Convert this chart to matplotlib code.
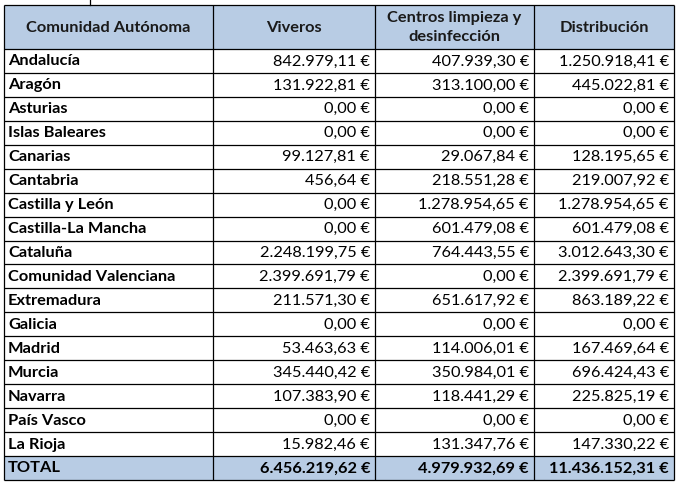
import matplotlib.pyplot as plt
from matplotlib.patches import Rectangle

# Table contents
headers = ['Comunidad Autónoma', 'Viveros', 'Centros limpieza y\ndesinfección', 'Distribución']
regions = ['Andalucía', 'Aragón', 'Asturias', 'Islas Baleares', 'Canarias', 'Cantabria',
           'Castilla y León', 'Castilla-La Mancha', 'Cataluña', 'Comunidad Valenciana',
           'Extremadura', 'Galicia', 'Madrid', 'Murcia', 'Navarra', 'País Vasco', 'La Rioja']
viveros = [842979.11, 131922.81, 0.0, 0.0, 99127.81, 456.64, 0.0, 0.0, 2248199.75,
           2399691.79, 211571.30, 0.0, 53463.63, 345440.42, 107383.90, 0.0, 15982.46]
centros = [407939.30, 313100.00, 0.0, 0.0, 29067.84, 218551.28, 1278954.65, 601479.08,
           764443.55, 0.0, 651617.92, 0.0, 114006.01, 350984.01, 118441.29, 0.0, 131347.76]
distribucion = [1250918.41, 445022.81, 0.0, 0.0, 128195.65, 219007.92, 1278954.65, 601479.08,
                3012643.30, 2399691.79, 863189.22, 0.0, 167469.64, 696424.43, 225825.19, 0.0, 147330.22]
totals = [6456219.62, 4979932.69, 11436152.31]


def euro(v):
    s = f"{v:,.2f}".replace(',', 'X').replace('.', ',').replace('X', '.')
    return s + ' €'


plt.rcParams['font.family'] = ['Lato', 'DejaVu Sans']

W, H = 681, 488
fig = plt.figure(figsize=(W / 100, H / 100), dpi=100)
ax = fig.add_axes([0, 0, 1, 1])
ax.set_xlim(0, W)
ax.set_ylim(H, 0)
ax.axis('off')

col_x = [4, 213, 375, 534, 674]
head_top, head_bot = 4.5, 49
row_h = (456 - head_bot) / 17
n_rows = len(regions)
total_top = head_bot + n_rows * row_h
total_bot = total_top + row_h
fill = '#B8CCE4'
fs = 11.8

# header and total backgrounds
ax.add_patch(Rectangle((col_x[0], head_top), col_x[-1] - col_x[0], head_bot - head_top,
                       facecolor=fill, edgecolor='none'))
ax.add_patch(Rectangle((col_x[0], total_top), col_x[-1] - col_x[0], total_bot - total_top,
                       facecolor=fill, edgecolor='none'))

# grid lines
ys = [head_top, head_bot] + [head_bot + (i + 1) * row_h for i in range(n_rows)] + [total_bot]
for y in ys:
    ax.plot([col_x[0], col_x[-1]], [y, y], color='black', lw=0.9, solid_capstyle='butt')
for x in col_x:
    ax.plot([x, x], [head_top, total_bot], color='black', lw=0.9, solid_capstyle='butt')
# little stub above the table
ax.plot([90, 90], [0, head_top], color='black', lw=0.9)

# header text
for i, h in enumerate(headers):
    cx = (col_x[i] + col_x[i + 1]) / 2
    ax.text(cx, (head_top + head_bot) / 2 + 1, h, ha='center', va='center',
            fontsize=fs, fontweight='bold', color='#1a1a1a', linespacing=1.45)

# body
for r in range(n_rows):
    cy = head_bot + (r + 0.5) * row_h + 0.5
    ax.text(col_x[0] + 4, cy, regions[r], ha='left', va='center',
            fontsize=fs, fontweight='bold', color='black')
    for j, vals in enumerate([viveros, centros, distribucion]):
        ax.text(col_x[j + 2] - 5, cy, euro(vals[r]), ha='right', va='center',
                fontsize=fs, color='black')

# total row
cy = total_top + row_h / 2 + 0.5
ax.text(col_x[0] + 4, cy, 'TOTAL', ha='left', va='center',
        fontsize=fs, fontweight='bold', color='black')
for j, v in enumerate(totals):
    ax.text(col_x[j + 2] - 5, cy, euro(v), ha='right', va='center',
            fontsize=fs, fontweight='bold', color='black')

fig.savefig('out.png', dpi=100, facecolor='white')
